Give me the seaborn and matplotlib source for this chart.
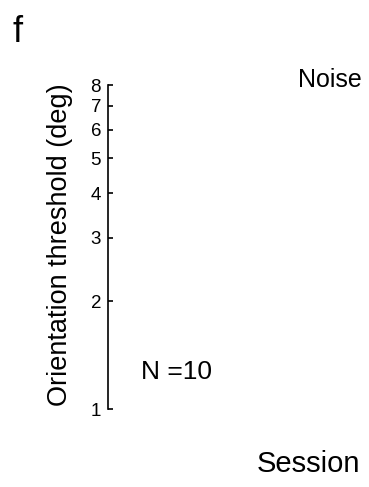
import matplotlib
matplotlib.use("Agg")
import matplotlib.pyplot as plt
import matplotlib.ticker as mticker
import seaborn as sns
import pandas as pd

# Threshold axis ticks (log scale, degrees)
threshold_ticks = [1, 2, 3, 4, 5, 6, 7, 8]
threshold_limits = [1, 8]
n_subjects = 10
condition = "Noise"

sns.set_style("ticks")
plt.rcParams["font.family"] = ["Liberation Sans", "DejaVu Sans"]
for key in ["text.color", "axes.labelcolor", "xtick.color", "ytick.color", "axes.edgecolor"]:
    plt.rcParams[key] = "black"

W, H = 369, 487
fig = plt.figure(figsize=(W / 100, H / 100), dpi=100)
ax = fig.add_axes([108 / W, 1 - 409 / H, (361 - 108) / W, (409 - 85) / H])

# Empty session series: the panel shows only the frame
sessions = pd.DataFrame({"Session": pd.Series(dtype=float),
                         "Threshold": pd.Series(dtype=float)})
ax.plot(sessions["Session"], sessions["Threshold"])

ax.set_yscale("log")
ax.set_ylim(*threshold_limits)
ax.yaxis.set_major_locator(mticker.FixedLocator(threshold_ticks))
ax.yaxis.set_minor_locator(mticker.NullLocator())
ax.yaxis.set_major_formatter(mticker.FixedFormatter([str(t) for t in threshold_ticks]))
ax.tick_params(axis="y", direction="in", length=3.5, width=1.2, labelsize=13.5, pad=5)
ax.set_xticks([])

sns.despine(ax=ax, bottom=True)
ax.spines["left"].set_linewidth(1.2)

ax.set_ylabel("Orientation threshold (deg)", fontsize=19.5)
ax.yaxis.set_label_coords(73 / W, 1 - 245 / H, transform=fig.transFigure)

fig.text(362 / W, 1 - 87 / H, condition, fontsize=18, ha="right", va="baseline")
fig.text(360 / W, 1 - 472 / H, "Session", fontsize=21, ha="right", va="baseline")
fig.text(141 / W, 1 - 379 / H, f"N ={n_subjects}", fontsize=19, ha="left", va="baseline")
fig.text(12 / W, 1 - 42 / H, "f", fontsize=26, ha="left", va="baseline")

fig.savefig("out.png", dpi=100)
